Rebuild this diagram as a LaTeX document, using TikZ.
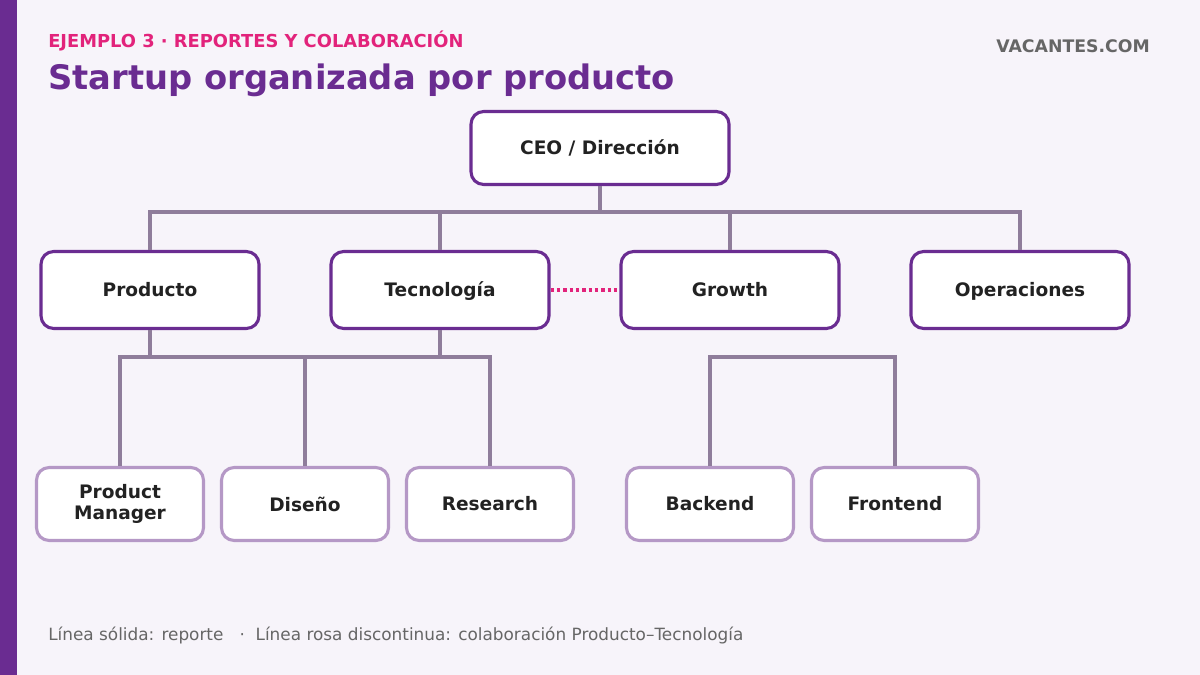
\documentclass[tikz,border=0pt]{standalone}
\usepackage{fontspec}
\setmainfont{DejaVu Sans}
\definecolor{bgc}{HTML}{F7F4FA}
\definecolor{purp}{HTML}{6A2C91}
\definecolor{pink}{HTML}{E2237B}
\definecolor{linec}{HTML}{8F7D9B}
\definecolor{lightb}{HTML}{B598C6}
\definecolor{txt}{HTML}{222222}
\begin{document}
\begin{tikzpicture}[x=0.025cm,y=-0.025cm]
  % Common styles
  \tikzset{
    boxtop/.style={draw=purp, line width=2.2pt, fill=white, rounded corners=9pt, minimum width=258*0.025cm, minimum height=73*0.025cm, font=\fontsize{13.2}{14.5}\selectfont\bfseries, text=txt, text height=1.85ex, text depth=0.25ex},
    boxmid/.style={boxtop, minimum width=218*0.025cm, minimum height=77*0.025cm},
    boxlow/.style={boxtop, draw=lightb, minimum width=167*0.025cm, minimum height=73*0.025cm, align=center, text height=, text depth=},
    rep/.style={draw=linec, line width=2.4pt},
    collab/.style={draw=pink, line width=2.4pt, dash pattern=on 2.5pt off 2pt}
  }
  \fill[bgc] (0,0) rectangle (1200,675);
  \fill[purp] (0,0) rectangle (17,675);
  \useasboundingbox (0,0) rectangle (1200,675);

  % Header
  \node[anchor=west, text=pink, font=\fontsize{12.7}{14}\selectfont\bfseries, inner sep=0pt] (kicker) at (48,41) {EJEMPLO 3 · REPORTES Y COLABORACIÓN};
  \node[anchor=west, text=purp, font=\fontsize{24}{28}\selectfont\bfseries, inner sep=0pt] (title) at (48,80) {Startup organizada por producto};
  \node[anchor=east, text=black!60, font=\fontsize{12.3}{14}\selectfont\bfseries, inner sep=0pt] (brand) at (1150,46) {VACANTES.COM};

  % Nodes
  \node[boxtop] (ceo) at (600,148) {CEO / Dirección};
  \node[boxmid] (prod) at (150,290) {Producto};
  \node[boxmid] (tec) at (440,290) {Tecnología};
  \node[boxmid] (grow) at (730,290) {Growth};
  \node[boxmid] (ops) at (1020,290) {Operaciones};
  \node[boxlow] (pm) at (120,504) {Product\\Manager};
  \node[boxlow] (dis) at (305,504) {Diseño};
  \node[boxlow] (res) at (490,504) {Research};
  \node[boxlow] (back) at (710,504) {Backend};
  \node[boxlow] (front) at (895,504) {Frontend};

  % Reporting lines
  \coordinate (busa) at (0,212);
  \coordinate (busb) at (0,357);
  \draw[rep] (ceo.south) -- (ceo.south |- busa);
  \draw[rep] (prod.north) |- (ops.north |- busa) -- (ops.north);
  \foreach \n in {tec,grow} \draw[rep] (\n.north) -- (\n.north |- busa);
  \draw[rep] (prod.south) -- (prod.south |- busb);
  \draw[rep] (tec.south) -- (tec.south |- busb);
  \draw[rep] (pm.north) |- (res.north |- busb) -- (res.north);
  \draw[rep] (dis.north) -- (dis.north |- busb);
  \draw[rep] (back.north) |- (front.north |- busb) -- (front.north);

  % Collaboration
  \draw[collab] (tec.east) -- (grow.west);

  % Footer
  \node[anchor=west, text=black!60, font=\fontsize{12}{14}\selectfont, inner sep=0pt] (legend) at (48,635) {Línea sólida: reporte \ \ · \ Línea rosa discontinua: colaboración Producto–Tecnología};
\end{tikzpicture}
\end{document}
